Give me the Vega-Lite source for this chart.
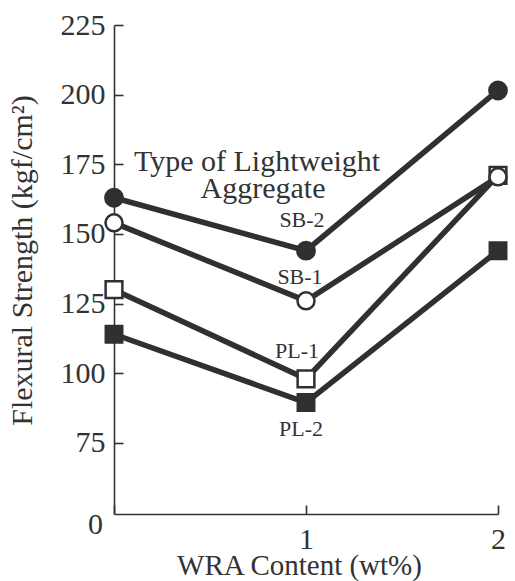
{
  "$schema": "https://vega.github.io/schema/vega-lite/v6.json",
  "width": 384,
  "height": 489,
  "autosize": {"type": "none"},
  "padding": {"left": 114, "top": 25, "right": 17, "bottom": 67},
  "background": "white",
  "config": {
    "view": {"stroke": null},
    "font": "Liberation Serif",
    "axis": {
      "grid": false,
      "domainColor": "#333333",
      "domainWidth": 1.6,
      "tickColor": "#333333",
      "tickWidth": 1.6,
      "labelColor": "#333333",
      "titleColor": "#333333",
      "labelFont": "Liberation Serif",
      "titleFont": "Liberation Serif",
      "labelFontSize": 30,
      "titleFontSize": 30,
      "titleFontWeight": "normal",
      "labelOverlap": false,
      "labelFlush": false
    }
  },
  "datasets": {
    "strength": [
      {"series": "PL-2", "wra": 0, "strength": 114},
      {"series": "PL-2", "wra": 1, "strength": 89.5},
      {"series": "PL-2", "wra": 2, "strength": 144},
      {"series": "PL-1", "wra": 0, "strength": 130},
      {"series": "PL-1", "wra": 1, "strength": 98},
      {"series": "PL-1", "wra": 2, "strength": 171},
      {"series": "SB-1", "wra": 0, "strength": 154},
      {"series": "SB-1", "wra": 1, "strength": 126},
      {"series": "SB-1", "wra": 2, "strength": 170.5},
      {"series": "SB-2", "wra": 0, "strength": 163},
      {"series": "SB-2", "wra": 1, "strength": 144},
      {"series": "SB-2", "wra": 2, "strength": 201.5}
    ],
    "notes": [
      {"text": "Type of Lightweight", "wra": 0.745, "strength": 175.8},
      {"text": "Aggregate", "wra": 0.776, "strength": 166.2}
    ]
  },
  "layer": [
    {
      "data": {"name": "strength"},
      "mark": {"type": "line", "stroke": "#303030", "strokeWidth": 5.5},
      "encoding": {
        "x": {
          "field": "wra",
          "type": "quantitative",
          "scale": {"domain": [0, 2], "nice": false, "zero": false},
          "axis": {
            "values": [0, 1, 2],
            "labelExpr": "datum.value === 0 ? '0' : datum.value === 1 ? '1' : '2'",
            "tickSize": -9,
            "labelPadding": 19,
            "labelOffset": {"condition": {"test": "datum.value === 0", "value": -19}, "value": 0},
            "labelBaseline": {"condition": {"test": "datum.value === 0", "value": "middle"}, "value": "top"},
            "title": "WRA Content (wt%)",
            "titleFontSize": 29,
            "titleX": 185,
            "titleY": 51,
            "titleBaseline": "middle"
          }
        },
        "y": {
          "field": "strength",
          "type": "quantitative",
          "scale": {"domain": [49.5, 225], "nice": false, "zero": false},
          "axis": {
            "values": [75, 100, 125, 150, 175, 200, 225],
            "tickSize": -9,
            "labelPadding": 18,
            "title": "Flexural Strength (kgf/cm²)",
            "titleX": -92,
            "titleY": 235,
            "titleBaseline": "middle",
            "titleAlign": "center",
            "titleAngle": -90
          }
        },
        "detail": {"field": "series"},
        "order": {"field": "wra"}
      }
    },
    {
      "data": {"name": "strength"},
      "mark": {"type": "point", "filled": true, "stroke": "#303030", "strokeWidth": 2.5, "opacity": 1},
      "encoding": {
        "x": {"field": "wra", "type": "quantitative"},
        "y": {"field": "strength", "type": "quantitative"},
        "shape": {
          "field": "series",
          "type": "nominal",
          "scale": {"domain": ["SB-2", "SB-1", "PL-1", "PL-2"], "range": ["circle", "circle", "square", "square"]},
          "legend": null
        },
        "fill": {
          "field": "series",
          "type": "nominal",
          "scale": {"domain": ["SB-2", "SB-1", "PL-1", "PL-2"], "range": ["#303030", "#ffffff", "#ffffff", "#303030"]},
          "legend": null
        },
        "size": {
          "field": "series",
          "type": "nominal",
          "scale": {"domain": ["SB-2", "SB-1", "PL-1", "PL-2"], "range": [300, 270, 500, 500]},
          "legend": null
        }
      }
    },
    {
      "data": {"name": "strength"},
      "transform": [{"filter": "datum.wra === 1 && datum.series === 'SB-2'"}],
      "mark": {"type": "text", "font": "Liberation Serif", "fontSize": 22, "color": "#333333", "dy": -31, "dx": -4},
      "encoding": {
        "x": {"field": "wra", "type": "quantitative"},
        "y": {"field": "strength", "type": "quantitative"},
        "text": {"field": "series"}
      }
    },
    {
      "data": {"name": "strength"},
      "transform": [{"filter": "datum.wra === 1 && datum.series === 'SB-1'"}],
      "mark": {"type": "text", "font": "Liberation Serif", "fontSize": 22, "color": "#333333", "dy": -24, "dx": -6},
      "encoding": {
        "x": {"field": "wra", "type": "quantitative"},
        "y": {"field": "strength", "type": "quantitative"},
        "text": {"field": "series"}
      }
    },
    {
      "data": {"name": "strength"},
      "transform": [{"filter": "datum.wra === 1 && datum.series === 'PL-1'"}],
      "mark": {"type": "text", "font": "Liberation Serif", "fontSize": 22, "color": "#333333", "dy": -28, "dx": -9},
      "encoding": {
        "x": {"field": "wra", "type": "quantitative"},
        "y": {"field": "strength", "type": "quantitative"},
        "text": {"field": "series"}
      }
    },
    {
      "data": {"name": "strength"},
      "transform": [{"filter": "datum.wra === 1 && datum.series === 'PL-2'"}],
      "mark": {"type": "text", "font": "Liberation Serif", "fontSize": 22, "color": "#333333", "dy": 26, "dx": -5},
      "encoding": {
        "x": {"field": "wra", "type": "quantitative"},
        "y": {"field": "strength", "type": "quantitative"},
        "text": {"field": "series"}
      }
    },
    {
      "data": {"name": "notes"},
      "mark": {"type": "text", "font": "Liberation Serif", "fontSize": 30, "color": "#333333"},
      "encoding": {
        "x": {"field": "wra", "type": "quantitative"},
        "y": {"field": "strength", "type": "quantitative"},
        "text": {"field": "text"}
      }
    }
  ]
}
